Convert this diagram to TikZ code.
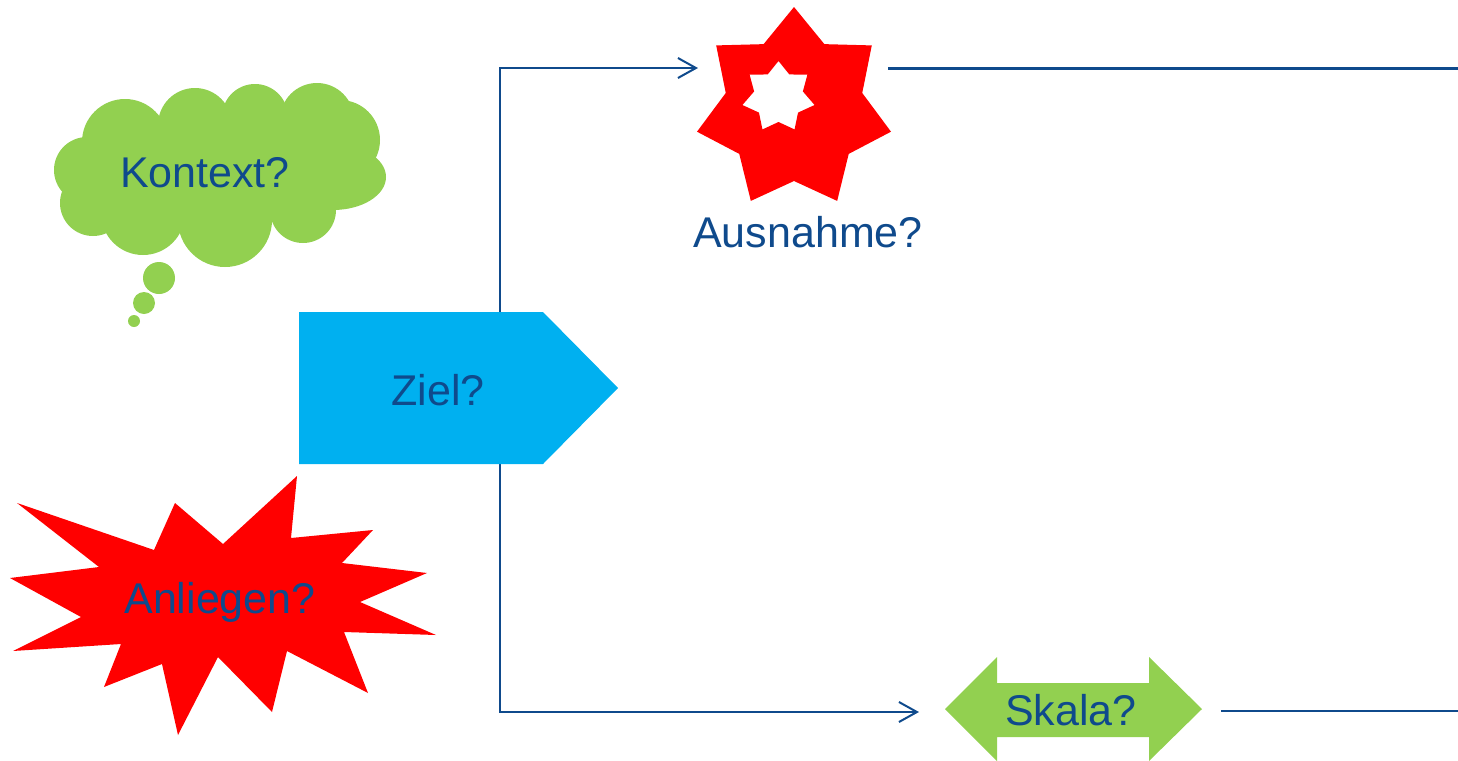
\documentclass[tikz,border=0pt]{standalone}
\usepackage{fontspec}
\setmainfont{Liberation Sans}
\usetikzlibrary{arrows.meta}
\definecolor{dblue}{HTML}{0F4A8C}
\definecolor{cgreen}{HTML}{92D050}
\definecolor{cblue}{HTML}{00B0F0}
\definecolor{sred}{HTML}{FF0000}
\begin{document}
\begin{tikzpicture}[x=0.5pt,y=-0.5pt,
  lbl/.style={text=dblue, font=\fontsize{21.5}{24}\selectfont, anchor=base, inner sep=0pt},
  conn/.style={draw=dblue, line width=1pt},
  tipped/.style={-{Straight Barb[length=9pt,width=10pt]}}]
\useasboundingbox (0,0) rectangle (1458,761);

% connectors (behind shapes)
\coordinate (zt) at (500,312);
\coordinate (zb) at (500,464);
\coordinate (ausIn) at (698,68);
\coordinate (ausOut) at (888,68);
\coordinate (rightTop) at (1458,68);
\coordinate (skIn) at (919,712);
\coordinate (skOut) at (1221,711);
\coordinate (rightBot) at (1458,711);
\draw[conn,tipped] (zt) |- (ausIn);
\draw[conn,tipped] (zb) |- (skIn);
\draw[conn,line width=1.5pt] (ausOut) -- (rightTop);
\draw[conn,line width=1.25pt] (skOut) -- (rightBot);

% cloud
\begin{scope}[cgreen]
\fill (215,172) ellipse [x radius=130, y radius=55];
\fill (125,142) circle [radius=43];
\fill (195,125) circle [radius=37];
\fill (255,117) circle [radius=33];
\fill (317,120) circle [radius=37];
\fill (340,140) circle [radius=40];
\fill (333,177) ellipse [x radius=53, y radius=33];
\fill (303,210) circle [radius=33];
\fill (225,220) circle [radius=47];
\fill (143,213) circle [radius=42];
\fill (93,203) circle [radius=33];
\fill (87,170) circle [radius=33];
\fill (159,278) circle [radius=16];
\fill (144,303) circle [radius=11];
\fill (134,321) circle [radius=6];
\end{scope}
\node[lbl] (kontext) at (205,187) {Kontext?};

% Ziel pentagon
\fill[cblue] (299,312) -- (543,312) -- (618,388) -- (543,464) -- (299,464) -- cycle;
\node[lbl] (ziel) at (438,405) {Ziel?};

% Anliegen burst
\fill[sred] (297,476) -- (291,538) -- (373,530) -- (342,563) -- (427,573) -- (360,602)
  -- (436,635) -- (344,632) -- (368,693) -- (287,651) -- (272,712) -- (218,657)
  -- (178,735) -- (162,664) -- (104,687) -- (121,644) -- (13,651) -- (81,617)
  -- (10,578) -- (99,567) -- (17,503) -- (154,550) -- (175,503) -- (223,544) -- cycle;
\node[lbl] (anliegen) at (220,613) {Anliegen?};

% Ausnahme star with hole
\fill[sred,even odd rule]
  plot[samples at={0,...,13}, variable=\k]
    ({794+(84.75+14.75*cos(\k*180))*cos(270+\k*360/14)},
     {109+(87+15*cos(\k*180))*sin(270+\k*360/14)}) -- cycle
  plot[samples at={0,...,13}, variable=\k]
    ({778.5+(31+6*cos(\k*180))*cos(270+\k*360/14)},
     {97+(30.5+5.5*cos(\k*180))*sin(270+\k*360/14)}) -- cycle;
\node[lbl] (ausnahme) at (808,247) {Ausnahme?};

% Skala double arrow
\fill[cgreen] (945,709) -- (997,657) -- (997,683) -- (1149,683) -- (1149,657)
  -- (1202,709) -- (1149,761) -- (1149,737) -- (997,737) -- (997,761) -- cycle;
\node[lbl] (skala) at (1071,725) {Skala?};
\end{tikzpicture}
\end{document}
